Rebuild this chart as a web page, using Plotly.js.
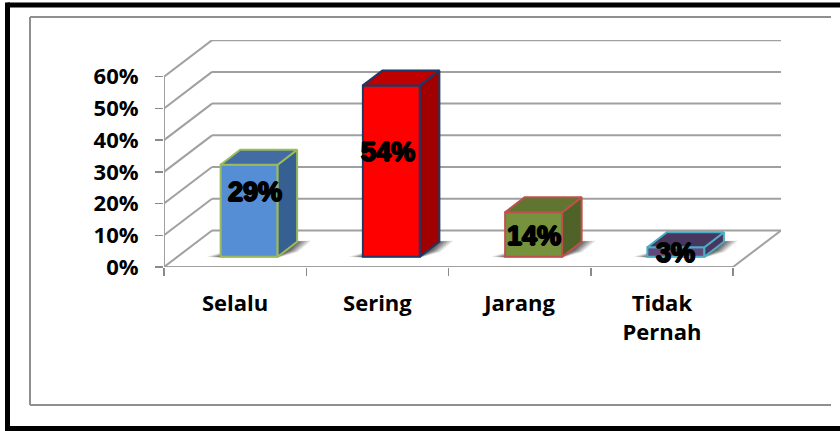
<!DOCTYPE html>
<html>
<head>
<meta charset="utf-8">
<script src="https://cdn.plot.ly/plotly-3.0.1.min.js"></script>
<style>html,body{margin:0;padding:0;background:#fff}</style>
</head>
<body>
<div id="chart" style="width:840px;height:431px"></div>
<script>
var categories = ['Selalu', 'Sering', 'Jarang', 'Tidak<br>Pernah'];
var values = [29, 54, 14, 3];
var valueLabels = ['29%', '54%', '14%', '3%'];
var yTicks = [0, 10, 20, 30, 40, 50, 60];
var yTickLabels = ['0%', '10%', '20%', '30%', '40%', '50%', '60%'];
var frontColors = ['#558ed5', '#ff0000', '#76923c', '#60497a'];
var topColors = ['#426ca3', '#c00000', '#5f7530', '#47365d'];
var sideColors = ['#376092', '#a00000', '#4f6228', '#4a3560'];
var edgeColors = ['#9bbb59', '#1f3864', '#c0504d', '#4bacc6'];
var labelNudgeX = [6, -3, 0, 0];
var labelNudgeY = [19, 19, -1, -1];

var W = 840, H = 431;
var ML = 164, MR = 59, MT = 40, MB = 164;
var PX_X = 142.25, PX_Y = 3.172;
var XMIN = -0.5, XMAX = XMIN + (W - ML - MR) / PX_X, YMAX = (H - MT - MB) / PX_Y;
var DX = 48 / PX_X, DY = 36.5 / PX_Y;
var BASE = 10.3 / PX_Y, SHIFT = 14 / PX_X, BARW = 57 / PX_X;
var SIDE_X = 19.5 / PX_X, SIDE_Y = 15 / PX_Y;
var GRID = '#a0a0a0', BORDER = '#8f8f8f';

var pw = W - ML - MR, ph = H - MT - MB;
function fx(p) { return (p - ML) / pw; }
function fy(p) { return (H - MB - p) / ph; }

var shapes = [];
function line(x0, y0, x1, y1) {
  shapes.push({type: 'line', layer: 'below', xref: 'x2', yref: 'y', x0: x0, y0: y0, x1: x1, y1: y1,
    line: {color: GRID, width: 2}});
}
yTicks.forEach(function (v) {
  line(XMIN, v, XMIN + DX, v + DY);
  line(XMIN + DX, v + DY, XMIN + 4 + DX, v + DY);
});
line(XMIN, 0, XMIN, 60);
line(XMIN, 0, XMIN + 4, 0);
line(XMIN + 4, 0, XMIN + 4 + DX, DY);

function poly(pts) {
  return 'M' + pts.map(function (p) { return p[0] + ',' + p[1]; }).join('L') + 'Z';
}
values.forEach(function (v, i) {
  var L = i + SHIFT - BARW / 2, R = L + BARW;
  [[14, 2, 0.14], [11, 1.5, 0.2], [8, 1.1, 0.26], [5, 0.7, 0.3], [2, 0.3, 0.34]].forEach(function (s) {
    var ex = s[0] / PX_X, ey = s[1] / PX_Y;
    shapes.push({type: 'path', layer: 'below', xref: 'x2', yref: 'y', line: {width: 0},
      fillcolor: 'rgba(60,60,60,' + s[2] + ')',
      path: poly([[L - ex, BASE], [L, BASE + ey * 2], [R, BASE + SIDE_Y],
                  [R + SIDE_X, BASE + SIDE_Y + ey / 2], [R + SIDE_X + ex, BASE + SIDE_Y + ey / 2],
                  [R + SIDE_X * 0.6 + ex * 0.6, BASE + SIDE_Y * 0.45 - ey], [R, BASE - ey / 2], [L, BASE - ey / 2]])});
  });
});

var traces = [];
traces.push({type: 'bar', x: categories, y: values, base: BASE, xaxis: 'x', yaxis: 'y',
  width: BARW, offset: SHIFT - BARW / 2,
  marker: {color: frontColors, line: {color: edgeColors, width: 2}},
  hoverinfo: 'skip', showlegend: false});
values.forEach(function (v, i) {
  var L = i + SHIFT - BARW / 2, R = L + BARW, T = BASE + v;
  traces.push({type: 'scatter', mode: 'lines', xaxis: 'x2', yaxis: 'y', fill: 'toself',
    fillcolor: sideColors[i], line: {color: edgeColors[i], width: 2}, hoverinfo: 'skip', showlegend: false,
    x: [R, R + SIDE_X, R + SIDE_X, R, R], y: [BASE, BASE + SIDE_Y, T + SIDE_Y, T, BASE]});
  traces.push({type: 'scatter', mode: 'lines', xaxis: 'x2', yaxis: 'y', fill: 'toself',
    fillcolor: topColors[i], line: {color: edgeColors[i], width: 2}, hoverinfo: 'skip', showlegend: false,
    x: [L, L + SIDE_X, R + SIDE_X, R, L], y: [T, T + SIDE_Y, T + SIDE_Y, T, T]});
});

var annotations = values.map(function (v, i) {
  return {xref: 'x2', yref: 'y', x: i + SHIFT, y: BASE + v / 2, text: valueLabels[i], showarrow: false,
    xshift: labelNudgeX[i], yshift: labelNudgeY[i],
    font: {family: 'Liberation Sans', size: 27, color: '#000', weight: 700,
      shadow: '1px 0 0 #000, -1px 0 0 #000, 0 1px 0 #000, 0 -1px 0 #000'}};
});

function frameLine(x0, y0, x1, y1, color, width) {
  return {type: 'line', layer: 'above', xref: 'paper', yref: 'paper',
    x0: fx(x0), y0: fy(y0), x1: fx(x1), y1: fy(y1), line: {color: color, width: width}};
}
shapes.push(frameLine(30, 17, 831, 17, BORDER, 2));
shapes.push(frameLine(30, 405, 831, 405, BORDER, 2));
shapes.push(frameLine(30, 17, 30, 405, BORDER, 2));
shapes.push(frameLine(7.5, 5, 840, 5, '#000', 5));
shapes.push(frameLine(7.5, 428.5, 840, 428.5, '#000', 5));
shapes.push(frameLine(7.5, 2.5, 7.5, 431, '#000', 5));

var tickFont = {family: 'Open Sans', size: 22, color: '#000', weight: 700};
var layout = {
  width: W, height: H, autosize: false, showlegend: false,
  paper_bgcolor: '#fff', plot_bgcolor: 'rgba(0,0,0,0)',
  margin: {l: ML, r: MR, t: MT, b: MB, pad: 0},
  xaxis: {type: 'category', categoryorder: 'array', categoryarray: categories, range: [XMIN, XMAX],
    tickson: 'boundaries', ticks: 'outside', ticklen: 8, tickwidth: 1.5, tickcolor: '#8a8a8a',
    showline: false, showgrid: false, zeroline: false, fixedrange: true, tickangle: 0, automargin: false,
    ticklabelstandoff: 21, tickfont: tickFont},
  xaxis2: {type: 'linear', overlaying: 'x', range: [XMIN, XMAX], visible: false, fixedrange: true},
  yaxis: {type: 'linear', range: [0, YMAX], tickmode: 'array', tickvals: yTicks, ticktext: yTickLabels,
    ticks: 'outside', ticklen: 8, tickwidth: 1.5, tickcolor: '#8a8a8a', ticklabelstandoff: 12,
    showline: false, showgrid: false, zeroline: false, fixedrange: true, automargin: false,
    tickfont: tickFont},
  shapes: shapes,
  annotations: annotations
};

Plotly.newPlot('chart', traces, layout, {displayModeBar: false, staticPlot: true});
</script>
</body>
</html>
